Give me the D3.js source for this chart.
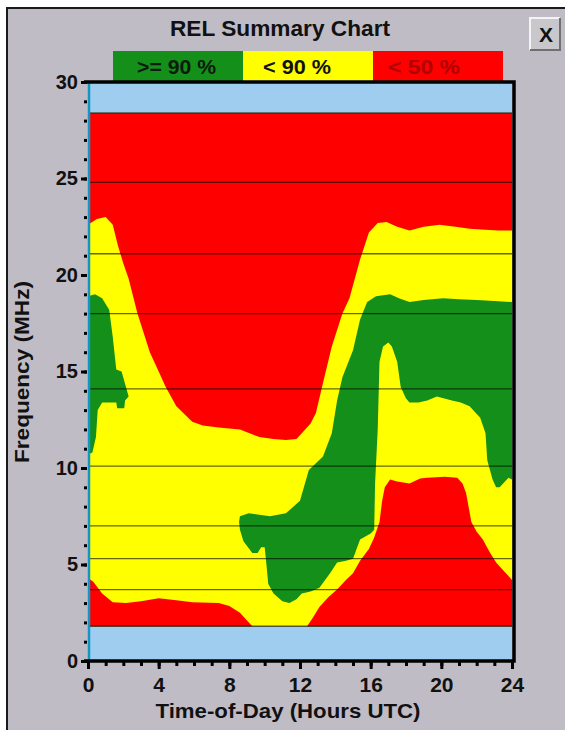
<!DOCTYPE html>
<html>
<head>
<meta charset="utf-8">
<script src="https://cdn.jsdelivr.net/npm/d3@7"></script>
<style>
  body { margin: 0; background: #fff; }
  svg { display: block; }
  text { font-family: "Liberation Sans", Arial, sans-serif; font-weight: bold; }
</style>
</head>
<body>
<svg width="565" height="730"></svg>
<script>
// Legend categories
const legendLabels = [">= 90 %", "< 90 %", "< 50 %"];
const legendColors = ["#14901a", "#ffff00", "#ff0000"];

// Tick values
const freqTicks = [0, 5, 10, 15, 20, 25, 30];
const hourTicks = [0, 4, 8, 12, 16, 20, 24];

// Frequency range actually computed (MHz), rest is light blue
const freqMin = 1.8;
const freqMax = 28.4;

// Band lines drawn across the chart (MHz)
const bandLines = [1.8, 3.7, 5.3, 7.0, 10.1, 14.1, 18.0, 21.1, 24.8, 28.4];

// Bottom of the upper red (< 50 %) area, [hour, MHz]
const redHighEdge = [
  [0, 22.6], [0.5, 22.9], [1.0, 23.0], [1.4, 22.6], [1.7, 21.5], [2.0, 20.6],
  [2.3, 19.8], [2.8, 18.0], [3.5, 16.0], [4.0, 15.0], [4.4, 14.2], [5.0, 13.2],
  [5.9, 12.4], [6.5, 12.2], [7.4, 12.1], [8.6, 12.0], [9.7, 11.6], [10.5, 11.5],
  [11.2, 11.45], [11.8, 11.5], [12.1, 11.8], [12.6, 12.3], [12.9, 12.85],
  [13.3, 14.4], [13.8, 16.3], [14.4, 18.0], [14.8, 18.8], [15.4, 20.8],
  [15.9, 22.2], [16.4, 22.7], [16.9, 22.75], [17.5, 22.5], [18.2, 22.3],
  [19.0, 22.5], [19.9, 22.6], [20.8, 22.5], [21.6, 22.4], [22.5, 22.35],
  [23.2, 22.3], [24, 22.3]
];

// Top of the lower red (< 50 %) area, [hour, MHz]
const redLowEdge = [
  [0, 4.3], [0.3, 4.1], [0.8, 3.5], [1.4, 3.05], [2.15, 3.0], [3.0, 3.1],
  [4.0, 3.25], [5.0, 3.15], [5.9, 3.05], [7.4, 3.0], [8.0, 2.85], [8.6, 2.5],
  [9.0, 2.1], [9.3, 1.8], [12.4, 1.8], [12.7, 2.2], [13.1, 2.8], [13.6, 3.3],
  [14.1, 3.7], [14.6, 4.2], [15.0, 4.55], [15.4, 5.2], [15.9, 5.8], [16.2, 6.4],
  [16.5, 7.2], [16.65, 8.3], [16.8, 9.0], [17.1, 9.4], [17.5, 9.3], [18.2, 9.2],
  [18.8, 9.45], [19.2, 9.5], [20.2, 9.55], [20.9, 9.5], [21.2, 9.2], [21.4, 8.7],
  [21.7, 7.2], [22.0, 6.7], [22.35, 6.3], [22.7, 5.7], [23.1, 5.1], [23.5, 4.7],
  [23.8, 4.4], [24, 4.2]
];

// Green (>= 90 %) area near midnight
const greenWestTop = [
  [0, 18.9], [0.4, 19.0], [0.8, 18.8], [1.2, 18.2], [1.4, 16.8], [1.6, 15.1],
  [1.9, 15.0], [2.15, 14.2], [2.3, 13.7]
];
const greenWestBottom = [
  [0, 10.7], [0.25, 10.8], [0.45, 11.6], [0.55, 13.0], [0.8, 13.4], [1.6, 13.4],
  [1.65, 13.1], [2.05, 13.1], [2.1, 13.5], [2.3, 13.7]
];

// Main green (>= 90 %) area
const greenMainTop = [
  [8.55, 7.2], [8.6, 7.5], [9.1, 7.65], [10.3, 7.5], [11.2, 7.65], [12.0, 8.3],
  [12.5, 9.9], [13.3, 10.6], [13.8, 11.8], [14.1, 13.5], [14.4, 14.7],
  [15.0, 16.1], [15.4, 17.7], [15.8, 18.6], [16.3, 18.9], [17.1, 19.0],
  [17.6, 18.8], [18.2, 18.6], [19.0, 18.7], [20.1, 18.8], [21.0, 18.75],
  [22.0, 18.7], [23.0, 18.65], [24, 18.6]
];
const greenMainBottom = [
  [8.55, 7.2], [8.6, 6.8], [8.8, 6.2], [9.3, 5.6], [9.6, 5.6], [9.8, 5.9],
  [10.0, 5.9], [10.1, 5.0], [10.2, 4.0], [10.5, 3.5], [11.0, 3.1], [11.4, 3.0],
  [11.8, 3.2], [12.1, 3.5], [12.6, 3.6], [13.1, 3.8], [13.7, 4.55], [14.1, 5.1],
  [14.6, 5.2], [15.0, 5.3], [15.4, 6.3], [16.0, 6.6], [16.2, 6.8], [16.25, 9.2],
  [16.4, 12.0], [16.5, 15.5], [16.7, 16.3], [17.0, 16.5], [17.2, 16.3],
  [17.5, 15.5], [17.7, 14.2], [18.0, 13.6], [18.2, 13.4], [18.7, 13.4],
  [19.2, 13.5], [19.75, 13.7], [20.6, 13.5], [21.1, 13.4], [21.6, 13.2],
  [22.2, 12.6], [22.5, 11.8], [22.6, 10.4], [22.9, 9.4], [23.1, 9.0],
  [23.3, 9.0], [23.5, 9.2], [23.8, 9.5], [24, 9.4]
];

const svg = d3.select("svg");

// Window frame
svg.append("rect").attr("x", 7).attr("y", 8).attr("width", 558).attr("height", 722)
  .attr("fill", "#bfbcc5");
svg.append("path").attr("d", "M7,730V8H565").attr("fill", "none")
  .attr("stroke", "#1a1a1a").attr("stroke-width", 2);

// Title
svg.append("text")
  .attr("x", 280).attr("y", 36)
  .attr("text-anchor", "middle")
  .attr("font-size", "22px")
  .attr("textLength", 220).attr("lengthAdjust", "spacingAndGlyphs")
  .attr("fill", "#111")
  .text("REL Summary Chart");

// Close button
const btn = svg.append("g").attr("transform", "translate(530,18)");
btn.append("rect").attr("width", 30).attr("height", 32).attr("fill", "#c8c8cc");
btn.append("path").attr("d", "M0,32V0H30").attr("fill", "none").attr("stroke", "#f4f4f4").attr("stroke-width", 2);
btn.append("path").attr("d", "M30,0V32H0").attr("fill", "none").attr("stroke", "#707070").attr("stroke-width", 2);
btn.append("text").attr("x", 16).attr("y", 24).attr("text-anchor", "middle")
  .attr("font-size", "21px").attr("fill", "#111").text("X");

// Legend
const legendX = d3.scaleBand().domain(legendLabels).range([113, 503]);
const legend = svg.append("g");
legend.selectAll("rect").data(legendLabels).enter().append("rect")
  .attr("x", (d) => legendX(d))
  .attr("y", 51)
  .attr("width", legendX.bandwidth())
  .attr("height", 32)
  .attr("fill", (d, i) => legendColors[i]);
legend.selectAll("text").data(legendLabels).enter().append("text")
  .attr("x", (d, i) => legendX(d) + [24, 20, 15][i])
  .attr("y", 74)
  .attr("font-size", "20px")
  .attr("textLength", (d, i) => [79, 68, 72][i])
  .attr("lengthAdjust", "spacingAndGlyphs")
  .attr("fill", (d, i) => ["#0d1a0d", "#111", "#b00000"][i])
  .text((d) => d);

// Scales
const x = d3.scaleLinear().domain([0, 24]).range([88, 512]);
const y = d3.scaleLinear().domain([0, 30]).range([661, 82]);
const line = d3.line().x((d) => x(d[0])).y((d) => y(d[1]));

// Plot background (no data)
svg.append("rect")
  .attr("x", x(0)).attr("y", y(30))
  .attr("width", x(24) - x(0)).attr("height", y(0) - y(30))
  .attr("fill", "#9fcdf0");

// Yellow base (< 90 %)
svg.append("rect")
  .attr("x", x(0)).attr("y", y(freqMax))
  .attr("width", x(24) - x(0)).attr("height", y(freqMin) - y(freqMax))
  .attr("fill", legendColors[1]);

function band(upper, lower) {
  return line(upper.concat(lower.slice().reverse())) + "Z";
}

// Red areas (< 50 %)
svg.append("path")
  .attr("d", band([[0, freqMax], [24, freqMax]], redHighEdge))
  .attr("fill", legendColors[2]);
svg.append("path")
  .attr("d", band(redLowEdge, [[0, freqMin], [24, freqMin]]))
  .attr("fill", legendColors[2]);

// Green areas (>= 90 %)
svg.append("path").attr("d", band(greenWestTop, greenWestBottom)).attr("fill", legendColors[0]);
svg.append("path").attr("d", band(greenMainTop, greenMainBottom)).attr("fill", legendColors[0]);

// Band lines
svg.append("g").selectAll("line").data(bandLines).enter().append("line")
  .attr("x1", x(0)).attr("x2", x(24))
  .attr("y1", (d) => y(d)).attr("y2", (d) => y(d))
  .attr("stroke", "#000").attr("stroke-opacity", 0.6).attr("stroke-width", 1.3);

// Frame of the plot
svg.append("line").attr("x1", x(0) + 1).attr("x2", x(0) + 1).attr("y1", y(30)).attr("y2", y(0))
  .attr("stroke", "#1496c4").attr("stroke-width", 2.5);
svg.append("path")
  .attr("d", `M${x(0) - 4},${y(30)}H${x(24) + 2}V${y(0)}H${x(0) - 4}`)
  .attr("fill", "none").attr("stroke", "#000").attr("stroke-width", 3.5);

// Y axis
const yAxis = svg.append("g").attr("transform", `translate(${x(0) - 1},0)`);
yAxis.call(d3.axisLeft(y).ticks(30).tickSize(3).tickFormat(""))
  .call((g) => g.select(".domain").remove())
  .call((g) => g.selectAll(".tick line").attr("stroke-width", 3));
yAxis.append("g")
  .call(d3.axisLeft(y).tickValues(freqTicks).tickSize(6).tickPadding(3))
  .call((g) => g.select(".domain").remove())
  .call((g) => g.selectAll(".tick line").attr("stroke-width", 3))
  .call((g) => g.selectAll(".tick text")
    .attr("font-size", "20px").attr("font-family", "Liberation Sans, Arial")
    .attr("font-weight", "bold").attr("fill", "#111"));

// X axis
const xAxis = svg.append("g").attr("transform", `translate(0,${y(0) + 1})`);
xAxis.call(d3.axisBottom(x).ticks(24).tickSize(4).tickFormat(""))
  .call((g) => g.select(".domain").remove())
  .call((g) => g.selectAll(".tick line").attr("stroke-width", 3));
xAxis.append("g")
  .call(d3.axisBottom(x).tickValues(hourTicks).tickSize(7).tickPadding(8))
  .call((g) => g.select(".domain").remove())
  .call((g) => g.selectAll(".tick line").attr("stroke-width", 3))
  .call((g) => g.selectAll(".tick text")
    .attr("font-size", "21px").attr("font-family", "Liberation Sans, Arial")
    .attr("font-weight", "bold").attr("fill", "#111"));

// Axis titles
svg.append("text")
  .attr("transform", "translate(29,372) rotate(-90)")
  .attr("text-anchor", "middle")
  .attr("font-size", "20px")
  .attr("textLength", 182).attr("lengthAdjust", "spacingAndGlyphs")
  .attr("fill", "#111")
  .text("Frequency (MHz)");
svg.append("text")
  .attr("x", 288).attr("y", 718)
  .attr("text-anchor", "middle")
  .attr("font-size", "21px")
  .attr("textLength", 265).attr("lengthAdjust", "spacingAndGlyphs")
  .attr("fill", "#111")
  .text("Time-of-Day (Hours UTC)");
</script>
</body>
</html>
